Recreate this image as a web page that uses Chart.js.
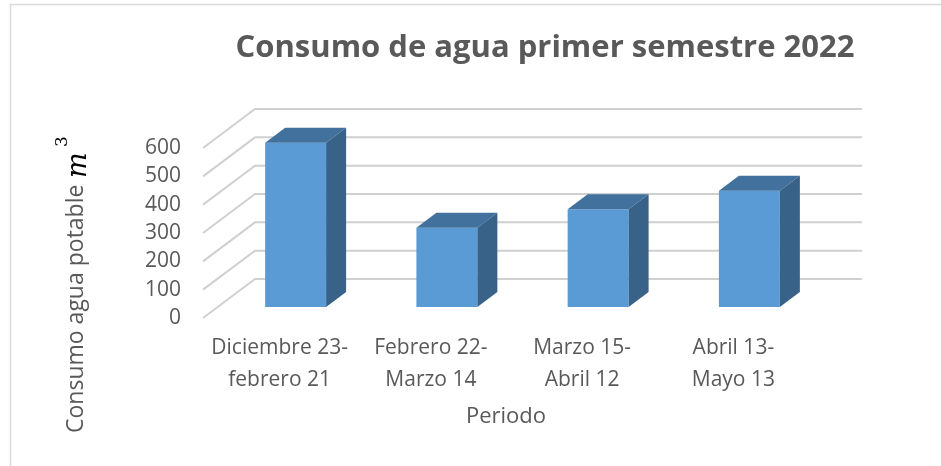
<!DOCTYPE html>
<html>
<head>
<meta charset="utf-8">
<script src="https://cdn.jsdelivr.net/npm/chart.js@4.4.0/dist/chart.umd.min.js"></script>
<style>
  html, body { margin: 0; padding: 0; background: #fff; }
  canvas { display: block; }
</style>
</head>
<body>
<canvas id="chart" width="941" height="466"></canvas>
<script>
const periodos = [
  ['Diciembre 23-', 'febrero 21'],
  ['Febrero 22-', 'Marzo 14'],
  ['Marzo 15-', 'Abril 12'],
  ['Abril 13-', 'Mayo 13'],
];
const consumo = [580, 280, 345, 410];
const yTicks = [0, 100, 200, 300, 400, 500, 600];

const titulo = 'Consumo de agua primer semestre 2022';
const tituloX = 'Periodo';
const tituloY = 'Consumo agua potable';

const gray = '#595959';
const gridGray = '#d0d0d0';
const frontBlue = '#5b9bd5';
const topBlue = '#41719c';
const sideBlue = '#386287';
const font = '"Open Sans", "DejaVu Sans", sans-serif';

// bar depth and wall offsets (relative to the bar plane)
const barDepth = { dx: 20, dy: -15 };
const wall = { front: 11, back: -28, left: -17, dx: 52, right: 862 };

// draws walls, gridlines, bar tops/sides and the titles
const threeD = {
  id: 'threeD',
  beforeDraw(chart) {
    const ctx = chart.ctx;
    ctx.save();
    ctx.strokeStyle = '#d9d9d9';
    ctx.lineWidth = 1.5;
    ctx.beginPath();
    ctx.moveTo(10.5, 470);
    ctx.lineTo(10.5, 4.5);
    ctx.lineTo(945, 4.5);
    ctx.stroke();

    ctx.fillStyle = gray;
    ctx.textAlign = 'center';
    ctx.textBaseline = 'alphabetic';
    ctx.font = 'bold 31px ' + font;
    ctx.fillText(titulo, 545, 57);

    ctx.font = '22px ' + font;
    ctx.textBaseline = 'middle';
    ctx.fillText(tituloX, 506, 417);

    // rotated y title with m³
    ctx.translate(83, 433);
    ctx.rotate(-Math.PI / 2);
    ctx.textAlign = 'left';
    ctx.textBaseline = 'alphabetic';
    ctx.font = '23px ' + font;
    ctx.fillText(tituloY, 0, 0);
    ctx.fillStyle = '#000';
    ctx.font = 'italic 27px "DejaVu Serif", serif';
    ctx.fillText('m', 255, 3);
    ctx.font = '17px "DejaVu Serif", serif';
    ctx.fillText('3', 286, -16);
    ctx.restore();
  },
  beforeDatasetsDraw(chart) {
    const ctx = chart.ctx;
    const y = chart.scales.y;
    const fx = chart.chartArea.left + wall.left;
    const bx = fx + wall.dx;
    ctx.save();
    ctx.strokeStyle = gridGray;
    ctx.lineWidth = 2;
    yTicks.forEach(v => {
      const py = y.getPixelForValue(v);
      ctx.beginPath();
      ctx.moveTo(fx, py + wall.front);
      ctx.lineTo(bx, py + wall.back);
      ctx.lineTo(wall.right, py + wall.back);
      ctx.stroke();
    });
    ctx.restore();
  },
  afterDatasetsDraw(chart) {
    const ctx = chart.ctx;
    const meta = chart.getDatasetMeta(0);
    ctx.save();
    meta.data.forEach(bar => {
      const { x, y, base, width } = bar.getProps(['x', 'y', 'base', 'width'], true);
      const l = x - width / 2;
      const r = x + width / 2;
      const { dx, dy } = barDepth;
      ctx.fillStyle = topBlue;
      ctx.beginPath();
      ctx.moveTo(l, y);
      ctx.lineTo(r, y);
      ctx.lineTo(r + dx, y + dy);
      ctx.lineTo(l + dx, y + dy);
      ctx.closePath();
      ctx.fill();
      ctx.fillStyle = sideBlue;
      ctx.beginPath();
      ctx.moveTo(r, y);
      ctx.lineTo(r + dx, y + dy);
      ctx.lineTo(r + dx, base + dy);
      ctx.lineTo(r, base);
      ctx.closePath();
      ctx.fill();
    });
    ctx.restore();
  },
};

new Chart(document.getElementById('chart'), {
  type: 'bar',
  data: {
    labels: periodos,
    datasets: [
      {
        label: tituloY,
        data: consumo,
        backgroundColor: frontBlue,
        borderWidth: 0,
        barPercentage: 0.403,
        categoryPercentage: 1,
      },
    ],
  },
  options: {
    responsive: false,
    animation: false,
    events: [],
    layout: { padding: { top: 137, right: 116, left: 0, bottom: 0 } },
    plugins: {
      legend: { display: false },
      tooltip: { enabled: false },
    },
    scales: {
      x: {
        grid: { display: false, drawTicks: false },
        border: { display: false },
        ticks: {
          color: gray,
          font: { family: font, size: 21, lineHeight: 1.52 },
          padding: 25,
          labelOffset: -16,
          maxRotation: 0,
          autoSkip: false,
        },
        afterFit: s => { s.height = 159; },
      },
      y: {
        min: 0,
        max: 600,
        grid: { display: false, drawTicks: false },
        border: { display: false },
        ticks: {
          stepSize: 100,
          color: gray,
          font: { family: font, size: 21 },
          padding: 39,
          labelOffset: 11,
        },
        afterFit: s => { s.width = 220; },
      },
    },
  },
  plugins: [threeD],
});
</script>
</body>
</html>
